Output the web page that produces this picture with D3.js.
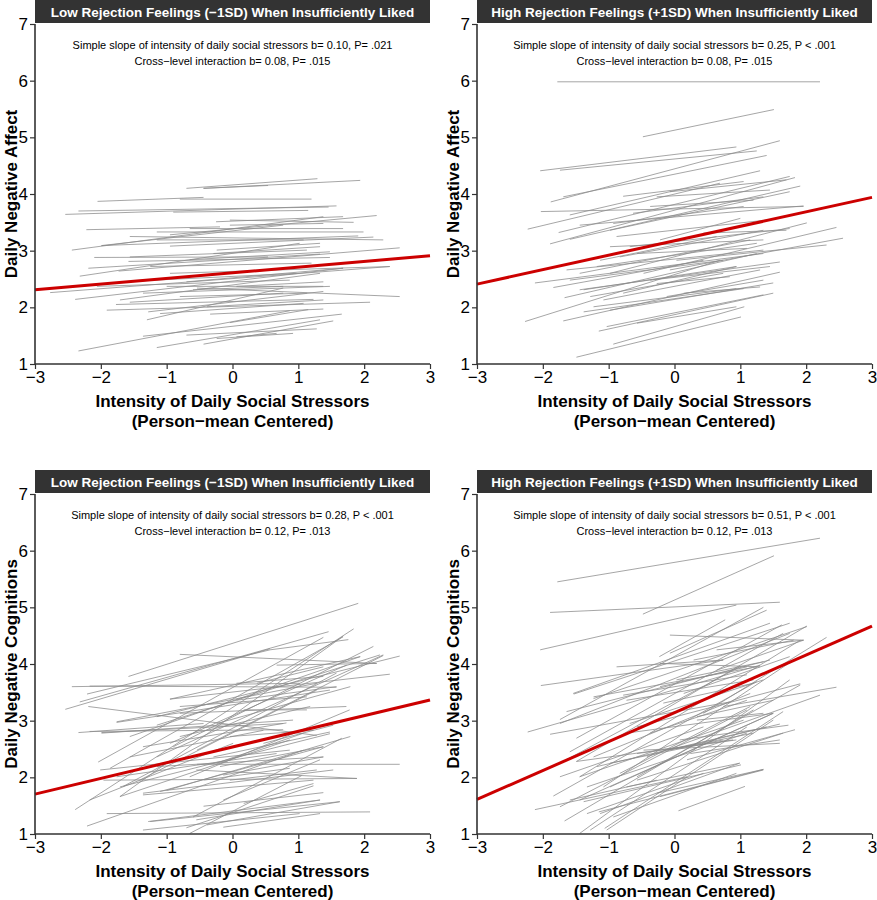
<!DOCTYPE html>
<html><head><meta charset="utf-8">
<script src="https://cdn.jsdelivr.net/npm/d3@7"></script>
<style>body{margin:0;background:#fff}svg{display:block}text{font-family:"Liberation Sans",Arial,Helvetica,sans-serif}</style>
</head><body><svg id="c" width="877" height="900"></svg>
<script>
// ---- data ----
const xTicks = [-3,-2,-1,0,1,2,3];
const yTicks = [1,2,3,4,5,6,7];
const titles = [
  "Low Rejection Feelings (\u22121SD) When Insufficiently Liked",
  "High Rejection Feelings (+1SD) When Insufficiently Liked",
  "Low Rejection Feelings (\u22121SD) When Insufficiently Liked",
  "High Rejection Feelings (+1SD) When Insufficiently Liked"
];
const notes = [
  ["Simple slope of intensity of daily social stressors b= 0.10, P= .021","Cross\u2212level interaction b= 0.08, P= .015"],
  ["Simple slope of intensity of daily social stressors b= 0.25, P < .001","Cross\u2212level interaction b= 0.08, P= .015"],
  ["Simple slope of intensity of daily social stressors b= 0.28, P < .001","Cross\u2212level interaction b= 0.12, P= .013"],
  ["Simple slope of intensity of daily social stressors b= 0.51, P < .001","Cross\u2212level interaction b= 0.12, P= .013"]
];
const yTitles = ["Daily Negative Affect","Daily Negative Affect","Daily Negative Cognitions","Daily Negative Cognitions"];
const xTitle = ["Intensity of Daily Social Stressors","(Person\u2212mean Centered)"];
// fixed-effect line: [intercept, slope]
const fixedLines = [[2.61,0.10],[3.175,0.255],[2.535,0.277],[3.14,0.51]];
// person-level segments: [x1,y1,x2,y2]
const persons1 = [
[-0.70,4.10,1.29,4.27],[-0.44,4.10,0.54,4.15],[-0.44,4.10,1.94,4.24],[-2.05,3.87,-0.44,3.94],[-0.80,3.91,1.20,3.91],
[-2.34,3.70,1.46,3.77],[-2.54,3.64,1.58,3.79],[-0.90,3.68,1.15,3.71],[-0.25,3.51,1.68,3.60],[-0.04,3.54,1.84,3.50],
[-2.22,3.37,-0.19,3.42],[-1.15,3.33,1.99,3.33],[-0.95,3.28,2.19,3.62],[-1.99,3.09,0.77,3.45],[-1.99,3.09,1.91,3.26],
[-2.44,3.01,1.38,3.60],[-1.56,3.25,2.29,3.19],[-0.95,3.08,2.14,3.24],[-2.10,2.88,0.54,2.89],[-2.19,2.69,1.33,2.94],
[-2.32,2.55,1.02,3.13],[-1.73,2.64,2.54,3.05],[-1.58,2.81,1.48,2.88],[-1.25,2.72,1.20,2.78],[-2.77,2.26,2.39,2.72],
[-2.39,2.14,1.68,2.69],[-1.71,2.13,1.33,2.60],[-1.36,2.25,1.48,2.37],[-0.54,2.34,2.54,2.19],[-1.91,1.95,2.09,2.09],
[-1.77,2.05,1.23,2.14],[-1.28,1.92,1.38,2.28],[-1.30,1.78,0.77,2.34],[-0.34,1.88,1.38,1.97],[-1.10,1.89,1.08,2.07],
[-1.36,1.49,1.66,1.88],[-2.34,1.23,0.87,1.94],[-1.15,1.29,1.33,1.78],[-0.44,1.35,1.53,1.76],[-0.70,1.51,1.28,1.62],
[-0.24,1.45,0.92,1.54],[-0.04,1.73,1.15,1.96],[0.06,1.48,0.67,1.54],[-2.06,2.37,0.87,2.48],[-1.00,2.37,1.38,2.37],
[-0.60,2.31,0.77,2.37],[-0.80,2.19,1.13,2.25],[-1.56,2.89,1.13,3.01],[-0.65,2.84,1.48,2.98],[-0.29,2.95,1.33,3.07],
[-1.15,3.19,1.08,3.19],[-0.65,3.39,1.68,3.39],[-0.04,3.45,1.38,3.48],[-0.24,3.01,1.33,3.13],[-0.95,2.60,2.39,2.72],
[-1.71,2.45,0.97,2.60],[-0.70,2.45,1.68,2.69],[-1.56,2.09,0.77,2.25],[-0.39,2.01,1.38,2.13],[0.06,2.37,1.38,2.45]
];
const persons2 = [
[-1.78,5.98,2.21,5.98],[-0.48,5.01,1.51,5.49],[-2.04,4.41,0.94,4.83],[-1.74,4.42,1.25,4.76],[-1.88,3.86,1.60,4.94],
[-1.69,3.95,1.40,4.68],[-1.59,3.63,1.30,4.41],[-0.78,3.96,1.05,4.22],[-2.03,3.69,1.96,3.78],[-2.23,3.38,0.69,4.19],
[-1.76,3.32,1.75,4.31],[-1.89,3.12,1.83,4.29],[-1.59,3.20,1.91,4.14],[-0.98,3.36,1.75,4.04],[-0.63,3.66,1.35,3.95],
[-0.37,3.78,1.20,3.89],[-1.44,3.45,1.96,3.79],[-2.12,2.43,1.35,2.95],[-1.84,2.35,0.44,2.83],[-1.67,2.17,1.25,2.95],
[-1.38,2.31,0.94,2.72],[-2.27,1.75,0.69,2.83],[-1.69,1.76,1.60,2.62],[-1.38,1.92,1.05,2.33],[-1.03,1.66,1.35,2.22],
[-1.15,1.58,1.50,2.25],[-0.93,1.35,1.06,2.01],[-1.49,1.12,1.01,1.83],[-1.23,2.01,0.94,2.33],[-0.98,1.95,1.50,2.43],
[-0.98,2.60,2.01,3.49],[-0.47,2.60,2.46,3.41],[-0.07,2.66,2.56,3.22],[0.03,2.83,2.31,3.10],[-0.68,3.07,1.75,3.39],
[-0.98,3.07,1.35,3.19],[-0.83,2.89,1.35,3.36],[-1.18,2.72,1.25,3.13],[-1.44,2.60,1.15,3.19],[-1.59,2.48,0.74,2.83],
[-0.37,2.48,1.45,2.72],[-1.28,2.19,0.74,2.60],[-1.08,2.13,1.30,2.66],[-0.12,2.19,1.35,2.48],[-0.88,3.25,1.40,3.54],
[-0.93,3.48,1.05,3.78],[-0.27,3.95,1.45,4.07],[-0.07,4.04,1.70,4.25],[-0.57,2.95,1.10,3.04],[0.44,3.31,1.70,3.36],
[-0.22,3.19,1.00,3.57],[0.14,2.25,1.30,2.36],[-0.57,1.72,0.94,2.01],[-0.27,2.42,0.84,2.54],[-1.64,2.66,1.35,3.01],
[-1.44,2.31,1.60,2.80],[-0.78,2.25,0.94,2.72],[-1.13,2.83,0.64,3.25]
];
const persons3 = [
[-1.58,3.78,1.91,5.07],[-2.32,3.33,1.46,4.57],[-2.54,3.20,0.57,4.27],[-2.21,3.47,0.57,4.25],[-0.80,4.17,2.19,4.01],
[-2.44,3.60,1.02,3.66],[-2.19,3.25,1.28,2.74],[-2.34,2.79,-0.44,2.95],[-1.99,2.79,0.77,2.95],[-2.04,2.27,1.38,4.47],
[-2.39,1.43,1.84,4.62],[-1.71,1.66,1.68,4.49],[-2.21,1.14,1.08,2.48],[-1.91,1.36,2.09,1.39],[-1.36,1.07,1.02,1.36],
[-1.28,1.22,1.33,1.60],[-0.65,1.01,1.05,2.03],[-0.60,1.30,1.66,2.69],[-0.70,1.11,1.23,1.85],[-0.14,1.12,1.33,1.36],
[-0.39,1.16,1.63,1.57],[-0.44,1.49,1.38,1.73],[-1.36,1.69,1.23,1.95],[-0.54,2.23,2.54,2.23],[-1.96,1.95,1.89,1.98],
[-1.00,1.77,1.79,2.72],[-1.71,1.83,1.48,2.77],[-1.15,2.19,1.38,2.36],[-2.01,2.13,0.87,2.48],[-1.15,2.92,2.24,4.16],
[-1.76,2.97,1.48,3.54],[-0.95,3.38,2.39,3.82],[-1.56,2.72,1.94,4.13],[-0.95,2.60,1.73,3.98],[-1.15,3.07,2.54,4.14],
[-0.54,2.48,2.29,4.15],[-0.24,2.95,1.79,3.60],[-0.04,2.72,1.23,2.83],[0.17,3.19,1.13,3.19],[-0.29,2.36,1.48,2.80],
[0.47,2.60,1.53,2.92],[0.06,3.36,1.58,3.60],[0.67,3.98,2.19,4.01],[0.57,4.25,1.76,4.43],[0.37,3.66,1.38,3.95],
[-0.80,3.25,1.13,3.42],[-1.36,2.54,0.82,2.96],[-1.76,2.01,0.67,2.42],[-0.19,2.19,1.38,2.54],[-0.04,1.95,1.28,2.13],
[0.17,1.54,1.23,1.89],[-0.44,1.95,0.87,2.16],[-1.56,2.36,0.47,2.83],[-0.80,2.72,1.18,3.25],[0.06,3.66,1.38,3.78],
[-2.17,3.61,1.58,3.59],[-0.95,3.38,1.94,4.13],[-1.76,2.98,1.28,3.66],[-1.99,2.78,0.92,3.01],[-1.86,2.16,1.68,4.48],
[-2.17,2.81,0.77,2.84],[-1.66,1.84,1.58,3.84],[-1.41,1.95,1.28,3.54],[-1.15,2.36,2.29,4.16],[-0.90,2.54,2.14,4.31],
[-1.71,1.66,0.87,2.66],[-1.36,1.72,1.53,2.13],[-1.10,1.75,1.38,2.54],[-1.25,1.22,1.63,1.57],[-0.55,1.25,1.33,1.60],
[-0.14,1.60,1.33,2.31],[-2.17,1.60,0.01,2.60],[-0.65,2.01,1.78,3.19],[-0.24,2.25,1.08,2.78],[-0.55,2.13,1.89,1.98],
[-0.14,2.04,1.38,2.36],[-0.80,3.13,1.73,3.25]
];
const persons4 = [
[-1.78,5.45,2.21,6.22],[-0.48,4.88,1.51,5.91],[-1.89,4.91,1.60,5.09],[-2.04,4.25,0.94,5.04],[-2.03,3.62,0.74,4.07],
[-2.23,2.80,1.30,3.98],[-1.89,2.76,0.84,3.33],[-1.74,3.02,1.35,5.00],[-1.53,3.47,1.75,4.72],[-1.64,3.16,1.45,4.07],
[-1.59,2.45,1.65,4.54],[-1.49,2.28,2.01,4.67],[-0.23,4.13,0.77,4.78],[-0.07,4.19,1.40,4.95],[-1.84,1.67,1.25,3.69],
[-2.12,1.43,0.19,2.01],[-1.67,1.23,1.20,3.19],[-1.44,1.01,1.75,3.72],[-1.06,1.10,1.65,3.16],[0.06,1.41,1.07,1.84],
[-1.15,1.39,1.35,2.14],[-1.38,1.57,1.01,2.22],[-0.93,1.30,0.94,2.07],[0.74,3.25,2.46,3.59],[0.19,2.31,1.83,2.84],
[-0.07,2.48,1.60,2.94],[-0.57,2.89,1.91,3.65],[0.44,3.13,2.31,4.47],[0.64,3.89,1.96,4.42],[0.14,3.48,1.75,4.13],
[-1.23,3.42,1.25,3.95],[-0.78,3.45,1.10,3.81],[-0.68,2.95,1.35,3.72],[-1.44,2.01,1.05,3.01],[-1.33,1.83,1.10,2.78],
[-0.98,1.83,1.50,3.13],[-0.83,2.07,1.15,3.25],[-1.18,2.19,1.40,2.89],[-0.57,1.95,1.65,2.78],[-0.27,1.72,1.35,2.14],
[-1.33,1.36,0.44,2.07],[-0.12,2.48,1.20,2.78],[-0.37,2.78,1.10,3.36],[-0.17,3.31,1.20,3.66],[0.03,3.72,1.35,4.04],
[-0.07,4.51,1.96,4.42],[-0.22,4.01,1.30,3.95],[-0.88,3.95,0.74,4.07],[0.24,2.42,1.60,2.66],[-0.57,2.42,0.94,2.66],
[-0.98,2.25,0.74,2.66],[-1.59,1.60,-0.27,1.95],[0.34,3.01,1.35,3.13],
[-1.49,2.69,1.63,4.69],[-1.74,2.95,1.75,4.54],[-1.54,3.48,1.45,4.72],[-1.23,3.39,2.01,4.66],[-1.74,2.25,0.99,3.95],
[-1.44,2.01,1.91,4.42],[-1.08,1.83,1.81,4.07],[-1.44,1.60,1.50,3.13],[-1.74,1.48,1.10,3.19],[-1.13,1.36,0.99,2.25],
[-1.03,1.07,1.50,3.01],[-1.28,1.07,1.10,2.89],[-0.57,2.01,1.91,3.63],[-0.42,2.36,2.21,3.45],[-0.73,2.78,1.50,3.13],
[-1.49,2.28,0.89,2.66],[-0.22,1.66,1.35,2.13],[-0.73,1.83,0.99,2.25],[-0.47,2.48,1.60,2.60],[0.08,2.66,1.73,2.92],
[-0.73,3.36,1.20,3.72],[-0.22,3.60,1.10,3.95],[0.34,3.07,1.50,3.36],[0.29,4.07,1.81,4.42],[0.64,4.25,1.96,4.42],
[-1.23,2.36,1.15,3.48],[-1.74,2.01,0.44,2.89]
];
const personSets = [persons1, persons2, persons3, persons4];

// ---- layout ----
const svg = d3.select("#c");
const panels = [
  {x0:35, x1:430, yTop:24, yBot:364},
  {x0:477, x1:872, yTop:24, yBot:364},
  {x0:35, x1:430, yTop:494, yBot:834},
  {x0:477, x1:872, yTop:494, yBot:834}
];
const axisCol = "#333";

panels.forEach((p, i) => {
  const x = d3.scaleLinear().domain([-3,3]).range([p.x0, p.x1]);
  const y = d3.scaleLinear().domain([1,7]).range([p.yBot, p.yTop]);
  const g = svg.append("g");
  const cx = (p.x0 + p.x1) / 2;

  // header strip
  g.append("rect").attr("x", p.x0).attr("y", p.yTop - 24).attr("width", p.x1 - p.x0).attr("height", 23)
    .attr("fill", "#333333");
  g.append("text").attr("x", cx).attr("y", p.yTop - 7.5).attr("text-anchor", "middle")
    .attr("fill", "#fff").attr("font-weight", "bold").attr("font-size", 13.5).text(titles[i]);

  // notes
  notes[i].forEach((t, k) => {
    g.append("text").attr("x", cx).attr("y", p.yTop + 25 + k * 16).attr("text-anchor", "middle")
      .attr("fill", "#000").attr("font-size", 11).text(t);
  });

  // person lines
  g.append("g").selectAll("line").data(personSets[i]).join("line")
    .attr("x1", d => x(d[0])).attr("y1", d => y(d[1]))
    .attr("x2", d => x(d[2])).attr("y2", d => y(d[3]))
    .attr("stroke", "#8a8a8a").attr("stroke-width", 0.9).attr("stroke-opacity", 0.85);

  // fixed line
  const f = fixedLines[i];
  g.append("line").attr("x1", x(-3)).attr("y1", y(f[0] - 3 * f[1]))
    .attr("x2", x(3)).attr("y2", y(f[0] + 3 * f[1]))
    .attr("stroke", "#cc0000").attr("stroke-width", 3);

  // axes
  const xa = g.append("g").attr("transform", `translate(0,${p.yBot})`)
    .call(d3.axisBottom(x).tickValues(xTicks).tickSize(5).tickPadding(2).tickFormat(d => d < 0 ? "\u2212" + Math.abs(d) : String(d)));
  const ya = g.append("g").attr("transform", `translate(${p.x0},0)`)
    .call(d3.axisLeft(y).tickValues(yTicks).tickSize(5).tickPadding(2).tickFormat(d3.format("d")));
  [xa, ya].forEach(a => {
    a.select(".domain").attr("stroke", axisCol).attr("stroke-width", 1.6);
    a.selectAll(".tick line").attr("stroke", axisCol).attr("stroke-width", 1.2);
    a.selectAll(".tick text").attr("fill", "#000").attr("font-size", 17)
      .style("font-family", '"Liberation Sans",Arial,sans-serif');
  });
  xa.select(".domain").attr("d", `M${p.x0},0H${p.x1}`);
  ya.select(".domain").attr("d", `M0,${p.yBot}V${p.yTop}`);

  // axis titles
  xTitle.forEach((t, k) => {
    g.append("text").attr("x", cx).attr("y", p.yBot + 43 + k * 20).attr("text-anchor", "middle")
      .attr("font-weight", "bold").attr("font-size", 17).attr("fill", "#000").text(t);
  });
  g.append("text").attr("transform", `translate(${p.x0 - 18},${(p.yTop + p.yBot) / 2}) rotate(-90)`)
    .attr("text-anchor", "middle").attr("font-weight", "bold").attr("font-size", 17).attr("fill", "#000")
    .text(yTitles[i]);
});
</script></body></html>
